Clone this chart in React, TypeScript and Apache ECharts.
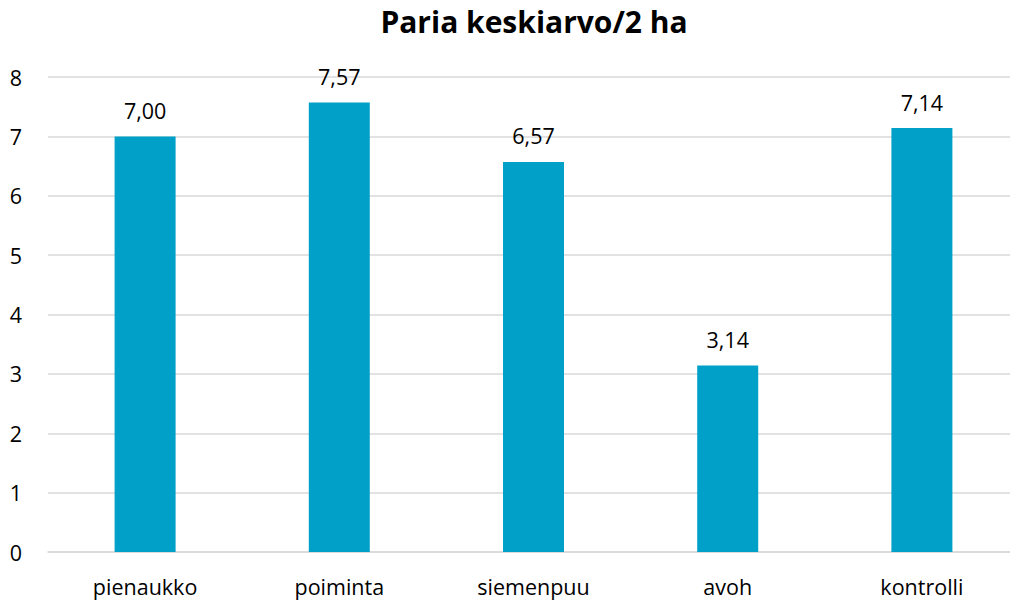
import React, { useEffect, useRef } from "react";
import * as echarts from "echarts";

const categories = ["pienaukko", "poiminta", "siemenpuu", "avoh", "kontrolli"];
const values = [7.0, 7.57, 6.57, 3.14, 7.14];
const titleText = "Paria keskiarvo/2 ha";
const FONT = "'Open Sans', 'Noto Sans', sans-serif";

export default function App() {
  const ref = useRef<HTMLDivElement>(null);
  useEffect(() => {
    const chart = echarts.init(ref.current!, null, { renderer: "svg" });
    chart.setOption({
      animation: false,
      title: {
        text: titleText,
        left: 529,
        textAlign: "center",
        top: 1,
        textStyle: { fontFamily: FONT, fontWeight: "bold", fontSize: 30, color: "#000" },
      },
      grid: { left: 48, top: 77, width: 971, height: 475, containLabel: false, outerBoundsMode: "none" },
      xAxis: {
        type: "category",
        data: categories,
        axisLine: { lineStyle: { color: "#d9d9d9", width: 1.5 } },
        axisTick: { show: false },
        axisLabel: { fontFamily: FONT, fontSize: 21.5, color: "#000", margin: 23 },
      },
      yAxis: {
        type: "value",
        min: 0,
        max: 8,
        interval: 1,
        axisLine: { show: false },
        axisTick: { show: false },
        splitLine: { lineStyle: { color: "#d9d9d9", width: 1.5 } },
        axisLabel: { fontFamily: FONT, fontSize: 21.5, color: "#000", margin: 26 },
      },
      series: [
        {
          type: "bar",
          data: values,
          barWidth: 61,
          itemStyle: { color: "#00A0C8" },
          label: {
            show: true,
            position: "top",
            distance: 15,
            fontFamily: FONT,
            fontSize: 21.5,
            color: "#000",
            formatter: (p: any) => Number(p.value).toFixed(2).replace(".", ","),
          },
        },
      ],
    });
    return () => chart.dispose();
  }, []);
  return (
    <div
      ref={ref}
      style={{ position: "absolute", left: 0, top: 0, width: 1010, height: 603, background: "#fff" }}
    />
  );
}
